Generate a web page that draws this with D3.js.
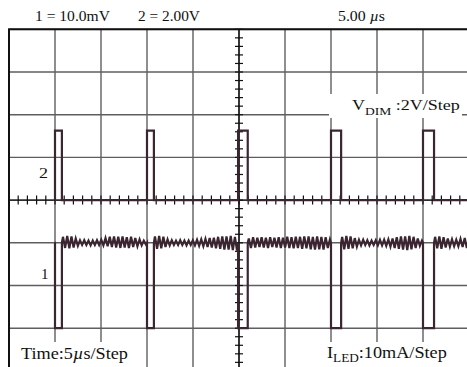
<!DOCTYPE html>
<html><head><meta charset="utf-8">
<script src="https://cdn.jsdelivr.net/npm/d3@7"></script>
<style>body{margin:0;background:#fff}svg{display:block}</style>
</head><body>
<script>
// ---- data ----
const timeDivs = [0,5,10,15,20,25,30,35,40,45,50];          // µs, 5 µs/step
const levelDivs = [-4,-3,-2,-1,0,1,2,3,4];                   // screen divisions
const vdimRise = [5.0, 15.0, 24.9, 35.0, 45.0];              // µs
const vdimFall = [5.75, 15.75, 25.95, 36.1, 46.2];           // µs
const vdimHigh = 3.25;   // V
const vdimLow = 0;       // V
const iledHigh = 20;     // mA
const iledLow = 0;       // mA
// I_LED ripple (mA around iledHigh) on each high segment
const ripple1 = [1.4,-1.2,1.6,-1.3,1.5,-1.1,1.0,-0.7,0.6,-0.5,0.6,-0.5,0.5,-0.6,0.5,-0.5,0.6,-0.5,0.7,-0.6,1.1,-0.8,1.4,-1.0,1.5,-1.1,1.4,-1.2,1.5,-1.1,1.3,-1.2,1.4,-1.0,1.1,-0.8,0.8,-0.6,0.5,-0.4];
const ripple2 = [1.5,-1.4,1.6,-1.3,1.4,-1.0,0.8,-0.6,0.6,-0.5,0.5,-0.5,0.6,-0.5,0.5,-0.6,0.5,-0.5,0.6,-0.6,0.7,-0.7,0.8,-0.8,0.9,-1.0,1.1,-1.1,1.2,-1.3,1.4,-1.4,1.5,-1.6,1.5,-1.6,1.6,-1.7,1.4,-1.8];
const ripple3 = [1.0,-1.2,1.3,-1.1,1.2,-1.0,1.3,-1.1,1.2,-1.2,1.3,-1.0,1.2,-1.1,1.3,-1.2,1.2,-1.1,1.4,-1.2,1.3,-1.3,1.4,-1.2,1.4,-1.4,1.5,-1.3,1.5,-1.5,1.4,-1.6,1.5,-1.5,1.4,-1.6,1.3,-1.2,0.8];
const ripple4 = [1.4,-1.5,1.6,-1.4,1.5,-1.3,1.1,-0.9,0.7,-0.6,0.7,-0.5,0.6,-0.6,0.5,-0.5,0.6,-0.6,0.7,-0.6,0.7,-0.7,0.8,-0.9,1.0,-1.2,1.3,-1.4,1.5,-1.6,1.5,-1.7,1.6,-1.5,1.4,-1.2,1.0,-0.7,0.5];
const ripple5 = [1.4,-1.3,1.5,-1.4,1.3,-1.1,1.0,-0.9,0.8,-0.8,0.7,-0.8,0.9,-1.0,1.1,-1.2,1.2,-1.2,1.1,-1.0];
const ripples = [ripple1, ripple2, ripple3, ripple4, ripple5];
const traceStart = 4.95, traceEnd = 50.8;
const vdimPerDiv = 2;   // V/step
const iledPerDiv = 10;  // mA/step
const iledZeroDiv = -3;

const W = 467, H = 367;
const svg = d3.select("body").append("svg").attr("width", W).attr("height", H);
const x = d3.scaleLinear().domain([0, 50]).range([9, 469]);
const y = d3.scaleLinear().domain([-4, 4]).range([370.9, 29.3]);
const yV = v => y(v / vdimPerDiv);
const yI = i => y(i / iledPerDiv + iledZeroDiv);

// grid
const grid = svg.append("g");
grid.selectAll("line.v").data(timeDivs).join("line")
  .attr("x1", d => x(d)).attr("x2", d => x(d)).attr("y1", y(4)).attr("y2", y(-4))
  .attr("stroke", "#5e5e5e").attr("stroke-width", 1.4);
grid.selectAll("line.h").data(levelDivs).join("line")
  .attr("y1", d => y(d)).attr("y2", d => y(d)).attr("x1", x(0)).attr("x2", x(50))
  .attr("stroke", "#5e5e5e").attr("stroke-width", 1.4);
// frame
svg.append("rect").attr("x", x(0)).attr("y", y(4)).attr("width", x(50) - x(0)).attr("height", y(-4) - y(4))
  .attr("fill", "none").attr("stroke", "#111").attr("stroke-width", 2);
// centre axes with minor ticks
svg.append("line").attr("x1", x(25)).attr("x2", x(25)).attr("y1", y(4)).attr("y2", y(-4)).attr("stroke", "#111").attr("stroke-width", 1.4);
svg.append("line").attr("y1", y(0)).attr("y2", y(0)).attr("x1", x(0)).attr("x2", x(50)).attr("stroke", "#111").attr("stroke-width", 1.4);
const minorT = d3.range(0, 50.01, 1), minorY = d3.range(-4, 4.01, 0.2);
svg.append("g").selectAll("line").data(minorT).join("line")
  .attr("x1", d => x(d)).attr("x2", d => x(d)).attr("y1", y(0) - 4.5).attr("y2", y(0) + 4.5)
  .attr("stroke", "#111").attr("stroke-width", 1.2);
svg.append("g").selectAll("line").data(minorY).join("line")
  .attr("y1", d => y(d)).attr("y2", d => y(d)).attr("x1", x(25) - 4).attr("x2", x(25) + 4)
  .attr("stroke", "#111").attr("stroke-width", 1.2);

// traces
const vdimPts = [[traceStart, vdimLow]];
vdimRise.forEach((r, i) => {
  vdimPts.push([r, vdimLow], [r, vdimHigh], [vdimFall[i], vdimHigh], [vdimFall[i], vdimLow]);
});
vdimPts.push([traceEnd, vdimLow]);
const iledPts = [[traceStart, iledHigh]];
vdimRise.forEach((r, i) => {
  iledPts.push([r, iledHigh], [r, iledLow], [vdimFall[i], iledLow], [vdimFall[i], iledHigh]);
  const rp = ripples[i];
  const end = i + 1 < vdimRise.length ? vdimRise[i + 1] : traceEnd;
  const step = (end - vdimFall[i]) / rp.length;
  rp.forEach((d, j) => iledPts.push([vdimFall[i] + (j + 0.5) * step, iledHigh + d]));
});
const traceColor = "#3a2530";
svg.append("path").datum(vdimPts)
  .attr("d", d3.line().x(d => x(d[0])).y(d => yV(d[1])))
  .attr("fill", "none").attr("stroke", traceColor).attr("stroke-width", 2.2);
svg.append("path").datum(iledPts)
  .attr("d", d3.line().x(d => x(d[0])).y(d => yI(d[1])))
  .attr("fill", "none").attr("stroke", traceColor).attr("stroke-width", 2.2);

// label backgrounds
svg.append("rect").attr("x", 329).attr("y", 94).attr("width", 133).attr("height", 24).attr("fill", "#fff");
svg.append("rect").attr("x", 10).attr("y", 342).attr("width", 125).attr("height", 25).attr("fill", "#fff");
svg.append("rect").attr("x", 318).attr("y", 342).attr("width", 144).attr("height", 25).attr("fill", "#fff");

// text helper: parts = [text, {size, dy, italic}]
function label(x0, y0, targetW, size, parts) {
  const g = svg.append("g");
  const t = g.append("text").attr("x", 0).attr("y", 0)
    .attr("font-family", "'Liberation Serif','Times New Roman',serif")
    .attr("font-size", size).attr("fill", "#111");
  parts.forEach(p => {
    const o = p[1] || {};
    const ts = t.append("tspan").text(p[0]);
    if (o.size) ts.attr("font-size", o.size);
    if (o.dy) ts.attr("dy", o.dy);
    if (o.italic) ts.attr("font-style", "italic");
  });
  const w = t.node().getComputedTextLength();
  const s = targetW ? targetW / w : 1;
  g.attr("transform", `translate(${x0},${y0}) scale(${s},1)`);
}
label(35, 21, 75, 14, [["1 = 10.0mV"]]);
label(138, 21, 62, 14, [["2 = 2.00V"]]);
label(338, 21, 47, 14, [["5.00 "], ["µ", {italic: true}], ["s"]]);
label(352, 110, 108, 14, [["V"], ["DIM", {size: 10.5, dy: 5}], [" :2V/Step", {dy: -5}]]);
label(39, 178, 9, 15, [["2"]]);
label(41, 279, 7.5, 15, [["1"]]);
label(21, 359, 107, 16.5, [["Time:5"], ["µ", {italic: true}], ["s/Step"]]);
label(327, 358, 120, 16.5, [["I"], ["LED", {size: 12, dy: 4}], [":10mA/Step", {dy: -4}]]);
</script>
</body></html>
